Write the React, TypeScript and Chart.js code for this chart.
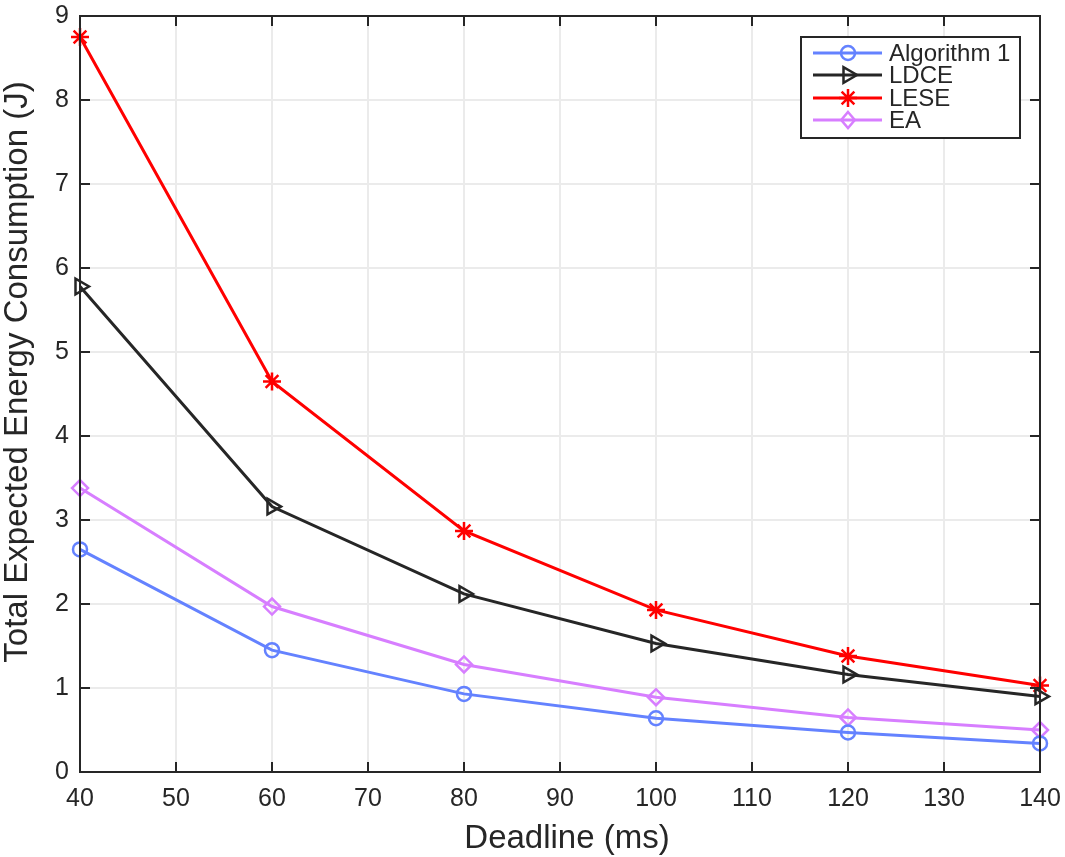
import React, { useEffect, useRef } from "react";
import { Chart, registerables } from "chart.js";

Chart.register(...registerables);

const deadlines = [40, 60, 80, 100, 120, 140];
const algorithm1 = [2.65, 1.45, 0.93, 0.64, 0.47, 0.34];
const ldce = [5.78, 3.16, 2.12, 1.53, 1.16, 0.9];
const lese = [8.75, 4.65, 2.87, 1.93, 1.38, 1.03];
const ea = [3.38, 1.97, 1.28, 0.89, 0.65, 0.5];
const seriesNames = ["Algorithm 1", "LDCE", "LESE", "EA"];
const seriesColors = ["#6482FF", "#262626", "#FF0000", "#D77EFF"];
const seriesMarkers = ["circle", "triangle", "star", "rectRot"];
const seriesRotations = [0, 90, 0, 0];
const seriesRadii = [7, 9, 9, 8];
const xTitle = "Deadline (ms)";
const yTitle = "Total Expected Energy Consumption (J)";

const FONT = "'Liberation Sans', Arial, Helvetica, sans-serif";
const AXIS = "#262626";

function drawMarker(ctx: CanvasRenderingContext2D, style: string, x: number, y: number, r: number, rot: number, color: string) {
  ctx.save();
  ctx.strokeStyle = color;
  ctx.lineWidth = 2.5;
  ctx.translate(x, y);
  ctx.rotate((rot * Math.PI) / 180);
  ctx.beginPath();
  if (style === "circle") {
    ctx.arc(0, 0, r, 0, Math.PI * 2);
  } else if (style === "triangle") {
    const s = (r * 3) / Math.sqrt(3);
    const h = (s * Math.sqrt(3)) / 2;
    ctx.moveTo(0, -(2 / 3) * h);
    ctx.lineTo(s / 2, h / 3);
    ctx.lineTo(-s / 2, h / 3);
    ctx.closePath();
  } else if (style === "star") {
    for (let k = 0; k < 4; k++) {
      const an = (k * Math.PI) / 4;
      ctx.moveTo(Math.cos(an) * r, Math.sin(an) * r);
      ctx.lineTo(-Math.cos(an) * r, -Math.sin(an) * r);
    }
  } else if (style === "rectRot") {
    ctx.moveTo(0, -r);
    ctx.lineTo(r * 0.85, 0);
    ctx.lineTo(0, r);
    ctx.lineTo(-r * 0.85, 0);
    ctx.closePath();
  }
  ctx.stroke();
  ctx.restore();
}

const boxTicks = {
  id: "boxTicks",
  afterDraw(chart: any) {
    const { ctx, chartArea: a, scales } = chart;
    ctx.save();
    ctx.strokeStyle = AXIS;
    ctx.lineWidth = 2;
    ctx.strokeRect(a.left, a.top, a.right - a.left, a.bottom - a.top);
    const L = 10;
    ctx.beginPath();
    scales.x.ticks.forEach((t: any) => {
      const px = scales.x.getPixelForValue(t.value);
      ctx.moveTo(px, a.bottom);
      ctx.lineTo(px, a.bottom - L);
      ctx.moveTo(px, a.top);
      ctx.lineTo(px, a.top + L);
    });
    scales.y.ticks.forEach((t: any) => {
      const py = scales.y.getPixelForValue(t.value);
      ctx.moveTo(a.left, py);
      ctx.lineTo(a.left + L, py);
      ctx.moveTo(a.right, py);
      ctx.lineTo(a.right - L, py);
    });
    ctx.stroke();

    // axis titles
    ctx.fillStyle = AXIS;
    ctx.font = `33px ${FONT}`;
    ctx.textAlign = "center";
    ctx.textBaseline = "alphabetic";
    ctx.fillText(xTitle, (a.left + a.right) / 2 + 7, 848);
    ctx.save();
    ctx.translate(27, (a.top + a.bottom) / 2 - 22);
    ctx.rotate(-Math.PI / 2);
    ctx.fillText(yTitle, 0, 0);
    ctx.restore();

    // legend
    const lx = 801, ly = 37, lw = 219, lh = 101;
    ctx.fillStyle = "#ffffff";
    ctx.fillRect(lx, ly, lw, lh);
    ctx.strokeStyle = AXIS;
    ctx.lineWidth = 2;
    ctx.strokeRect(lx, ly, lw, lh);
    const rows = [53, 75, 98, 120];
    ctx.font = `24px ${FONT}`;
    ctx.textBaseline = "middle";
    ctx.textAlign = "left";
    seriesNames.forEach((name, i) => {
      const y = rows[i];
      ctx.strokeStyle = seriesColors[i];
      ctx.lineWidth = 3;
      ctx.beginPath();
      ctx.moveTo(813, y);
      ctx.lineTo(882, y);
      ctx.stroke();
      drawMarker(ctx, seriesMarkers[i], 848, y, seriesRadii[i], seriesRotations[i], seriesColors[i]);
      ctx.fillStyle = AXIS;
      ctx.fillText(name, 889, y + 1);
    });
    ctx.restore();
  },
};

export default function App() {
  const ref = useRef<HTMLCanvasElement | null>(null);
  useEffect(() => {
    if (!ref.current) return;
    const data = [algorithm1, ldce, lese, ea];
    const chart = new Chart(ref.current, {
      type: "line",
      data: {
        datasets: data.map((vals, i) => ({
          label: seriesNames[i],
          data: vals.map((v, j) => ({ x: deadlines[j], y: v })),
          borderColor: seriesColors[i],
          backgroundColor: "rgba(0,0,0,0)",
          pointBackgroundColor: "rgba(0,0,0,0)",
          pointBorderColor: seriesColors[i],
          pointBorderWidth: 2.5,
          borderWidth: 3,
          pointStyle: seriesMarkers[i] as any,
          pointRotation: seriesRotations[i],
          pointRadius: seriesRadii[i],
          tension: 0,
          clip: false as any,
        })),
      },
      options: {
        animation: false,
        responsive: false,
        maintainAspectRatio: false,
        layout: { padding: { top: 16, right: 25, left: 0, bottom: 0 } },
        plugins: { legend: { display: false }, tooltip: { enabled: false } },
        scales: {
          x: {
            type: "linear",
            min: 40,
            max: 140,
            ticks: { stepSize: 10, color: AXIS, font: { family: FONT, size: 25 }, padding: 12 },
            grid: { color: "#EBEBEB", lineWidth: 2, drawTicks: false },
            border: { display: false },
            title: { display: false },
            afterFit: (s: any) => { s.height = 85; s.paddingLeft = 0; s.paddingRight = 0; },
          },
          y: {
            type: "linear",
            min: 0,
            max: 9,
            ticks: { stepSize: 1, color: AXIS, font: { family: FONT, size: 25 }, padding: 11 },
            grid: { color: "#EBEBEB", lineWidth: 2, drawTicks: false },
            border: { display: false },
            title: { display: false },
            afterFit: (s: any) => { s.width = 80; s.paddingTop = 0; s.paddingBottom = 0; },
          },
        },
      },
      plugins: [boxTicks],
    });
    return () => chart.destroy();
  }, []);
  return (
    <div style={{ position: "fixed", left: 0, top: 0, width: 1065, height: 857, background: "#fff" }}>
      <canvas ref={ref} width={1065} height={857} style={{ width: 1065, height: 857 }} />
    </div>
  );
}
